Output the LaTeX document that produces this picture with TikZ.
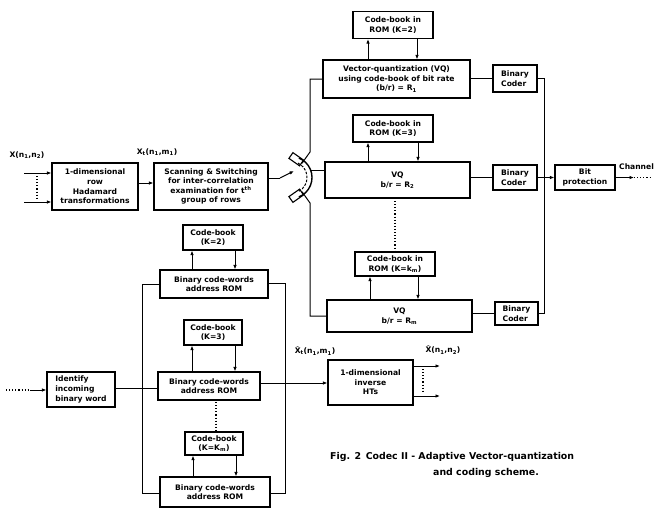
\documentclass[tikz,border=0pt]{standalone}
\usepackage{fontspec}
\setmainfont{DejaVu Sans}
\usetikzlibrary{arrows.meta,calc}
\newcommand\cbarrows[4]{%
  \path (#1.south) ++(#3,0) coordinate (#1l) (#1.south) ++(#4,0) coordinate (#1r);
  \draw[arr] (#1l |- #2.north) -- (#1l);
  \draw[arr] (#1r) -- (#1r |- #2.north);}
\newcommand\sbs[1]{\textsubscript{#1}}
\begin{document}
\begin{tikzpicture}[x=1pt,y=-1pt,
  box/.style={draw,line width=1.1pt,rectangle,align=center,inner sep=0pt,font=\fontsize{7.6}{9.6}\selectfont\bfseries},
  ln/.style={line width=1pt},
  arr/.style={ln,-{Latex[length=4.5pt,width=3.5pt]}},
  dots/.style={line width=1.1pt,dotted},
  lbl/.style={font=\fontsize{7.6}{9.6}\selectfont\bfseries,inner sep=0pt}]
\useasboundingbox (0,0) rectangle (661,509);
% ---------------- top right: coder
\node[box,minimum width=80pt,minimum height=27pt] (cb1) at (393,25) {Code-book in\\ROM (K=2)};
\node[box,minimum width=147pt,minimum height=38pt] (vq1) at (396.5,79) {Vector-quantization (VQ)\\using code-book of bit rate\\(b/r) = R\sbs{1}};
\node[box,minimum width=44pt,minimum height=27pt,align=left] (bc1) at (515,78.5) {Binary\\Coder};
\node[box,minimum width=80pt,minimum height=27pt] (cb2) at (393,128.5) {Code-book in\\ROM (K=3)};
\node[box,minimum width=145pt,minimum height=36pt] (vq2) at (397.5,180) {VQ\\b/r = R\sbs{2}};
\node[box,minimum width=44pt,minimum height=25pt,align=left] (bc2) at (515,177.5) {Binary\\Coder};
\node[box,minimum width=60pt,minimum height=25pt] (bp) at (585,177.5) {Bit\\protection};
\node[box,minimum width=80pt,minimum height=24pt] (cbm) at (395,264) {Code-book in\\ROM (K=k\sbs{m})};
\node[box,minimum width=145pt,minimum height=32pt] (vqm) at (399.5,316) {VQ\\b/r = R\sbs{m}};
\node[box,minimum width=43pt,minimum height=23pt,align=left] (bcm) at (516.5,313.5) {Binary\\Coder};
\cbarrows{cb1}{vq1}{-25}{24}
\cbarrows{cb2}{vq2}{-25}{25}
\cbarrows{cbm}{vqm}{-25}{23}
\draw[ln] (vq1.east |- bc1.west) -- (bc1.west);
\draw[ln] (vq2.east |- bc2.west) -- (bc2.west);
\draw[ln] (vqm.east |- bcm.west) -- (bcm.west);
\coordinate (bus1) at (544,78.5);
\coordinate (busm) at (544,313.5);
\draw[ln] (bc1.east) -- (bus1) -- (busm) -- (bcm.east);
\draw[ln] (bc2.east) -- (bc2.east -| bus1);
\draw[arr] (bc2.east -| bus1) -- (bp.west);
\coordinate (ch) at (634,177.5);
\coordinate (che) at (650,177.5);
\draw[arr] (bp.east) -- (ch);
\draw[dots] (ch) -- (che);
\node[lbl,anchor=west] (chl) at (619,167) {Channel};
\draw[dots] (395,201) -- (395,251);
% ---------------- left input
\node[box,minimum width=86pt,minimum height=47pt] (hd) at (95,186.5) {1-dimensional\\row\\Hadamard\\transformations};
\coordinate (in1) at (24,173);
\coordinate (in2) at (24,202);
\draw[arr] (in1) -- (in1 -| hd.west);
\draw[arr] (in2) -- (in2 -| hd.west);
\draw[dots] (37,176) -- (37,199);
\node[lbl] (xl) at (27,155) {X(n\sbs{1},n\sbs{2})};
\node[box,minimum width=114pt,minimum height=47pt] (sc) at (211,186.5) {Scanning \& Switching\\for inter-correlation\\examination for t\textsuperscript{th}\\group of rows};
\draw[arr] (hd.east |- 0,183) -- (sc.west |- 0,183);
\node[lbl] (xtl) at (157,152) {X\sbs{t}(n\sbs{1},m\sbs{1})};
% ---------------- switch
\coordinate (sw) at (291,177.5);
\draw[line width=1.4pt] ([shift={(-68:21)}]sw) arc[start angle=-68,end angle=68,radius=21];
\draw[line width=1pt,dash pattern=on 2.5pt off 1.5pt] ([shift={(-64:16)}]sw) arc[start angle=-64,end angle=64,radius=16];
\node[draw,line width=1.1pt,minimum width=13pt,minimum height=7pt,inner sep=0pt,rotate=-35] (swt) at ($(sw)+(-74:19)$) {};
\node[draw,line width=1.1pt,minimum width=13pt,minimum height=7pt,inner sep=0pt,rotate=35] (swb) at ($(sw)+(74:19)$) {};
\coordinate (swo) at (310.6,170);
\coordinate (swin) at (294,171);
\coordinate (swk) at (280,178);
\draw[ln] (sc.east |- swk) -- (swk);
\draw[arr] (swk) -- (swin);
\coordinate (tk) at (310,152);
\coordinate (bk) at (310,203);
\draw[ln] (swt.east) -- (tk) -- (tk |- vq1.west) -- (vq1.west);
\draw[ln] (swb.east) -- (bk) -- (bk |- vqm.west) -- (vqm.west);
\draw[ln] (swo) -- (vq2.west |- swo);
% ---------------- bottom decoder
\node[box,minimum width=60pt,minimum height=25pt] (cba) at (213,237.5) {Code-book\\(K=2)};
\node[box,minimum width=108pt,minimum height=28pt] (ba) at (214,284) {Binary code-words\\address ROM};
\node[box,minimum width=58pt,minimum height=25pt] (cbb) at (213,332.5) {Code-book\\(K=3)};
\node[box,minimum width=102pt,minimum height=28pt] (bb) at (209,386) {Binary code-words\\address ROM};
\node[box,minimum width=58pt,minimum height=23pt] (cbc) at (214,443.5) {Code-book\\(K=K\sbs{m})};
\node[box,minimum width=110pt,minimum height=30pt] (bx) at (215,492) {Binary code-words\\address ROM};
\cbarrows{cba}{ba}{-21}{22}
\cbarrows{cbb}{bb}{-21}{22}
\cbarrows{cbc}{bx}{-21}{22}
\draw[dots] (216,402) -- (216,430);
\coordinate (la) at (142,284);
\coordinate (lb) at (142,493);
\coordinate (ra) at (285,283);
\coordinate (rb) at (285,493);
\draw[ln] (ba.west |- la) -- (la) -- (lb) -- (bx.west |- lb);
\draw[ln] (ba.east |- ra) -- (ra) -- (rb) -- (bx.east |- rb);
\node[box,minimum width=68pt,minimum height=35pt,align=left] (id) at (81,389.5) {Identify\\incoming\\binary word};
\coordinate (iin) at (6,390);
\coordinate (iin2) at (30,390);
\draw[dots] (iin) -- (iin2);
\draw[arr] (iin2) -- (id.west |- iin2);
\draw[ln] (id.east |- 0,388) -- (bb.west |- 0,388);
\node[box,minimum width=85pt,minimum height=45pt] (ih) at (370.5,382.5) {1-dimensional\\inverse\\HTs};
\draw[arr] (bb.east |- 0,383) -- (ih.west |- 0,383);
\node[lbl] (xhl) at (315,351) {X^^^^0302\sbs{t}(n\sbs{1},m\sbs{1})};
\coordinate (o1) at (440,366);
\coordinate (o2) at (440,396);
\draw[arr] (ih.east |- o1) -- (o1);
\draw[arr] (ih.east |- o2) -- (o2);
\draw[dots] (423,369) -- (423,393);
\node[lbl] (xho) at (443,350) {X^^^^0302(n\sbs{1},n\sbs{2})};
% ---------------- caption
\node[anchor=west,inner sep=0pt,font=\fontsize{9.4}{11}\selectfont\bfseries] (cap1) at (330,457) {Fig. 2\enspace Codec II - Adaptive Vector-quantization};
\node[anchor=west,inner sep=0pt,font=\fontsize{9.4}{11}\selectfont\bfseries] (cap2) at (433,473) {and coding scheme.};
\end{tikzpicture}
\end{document}
